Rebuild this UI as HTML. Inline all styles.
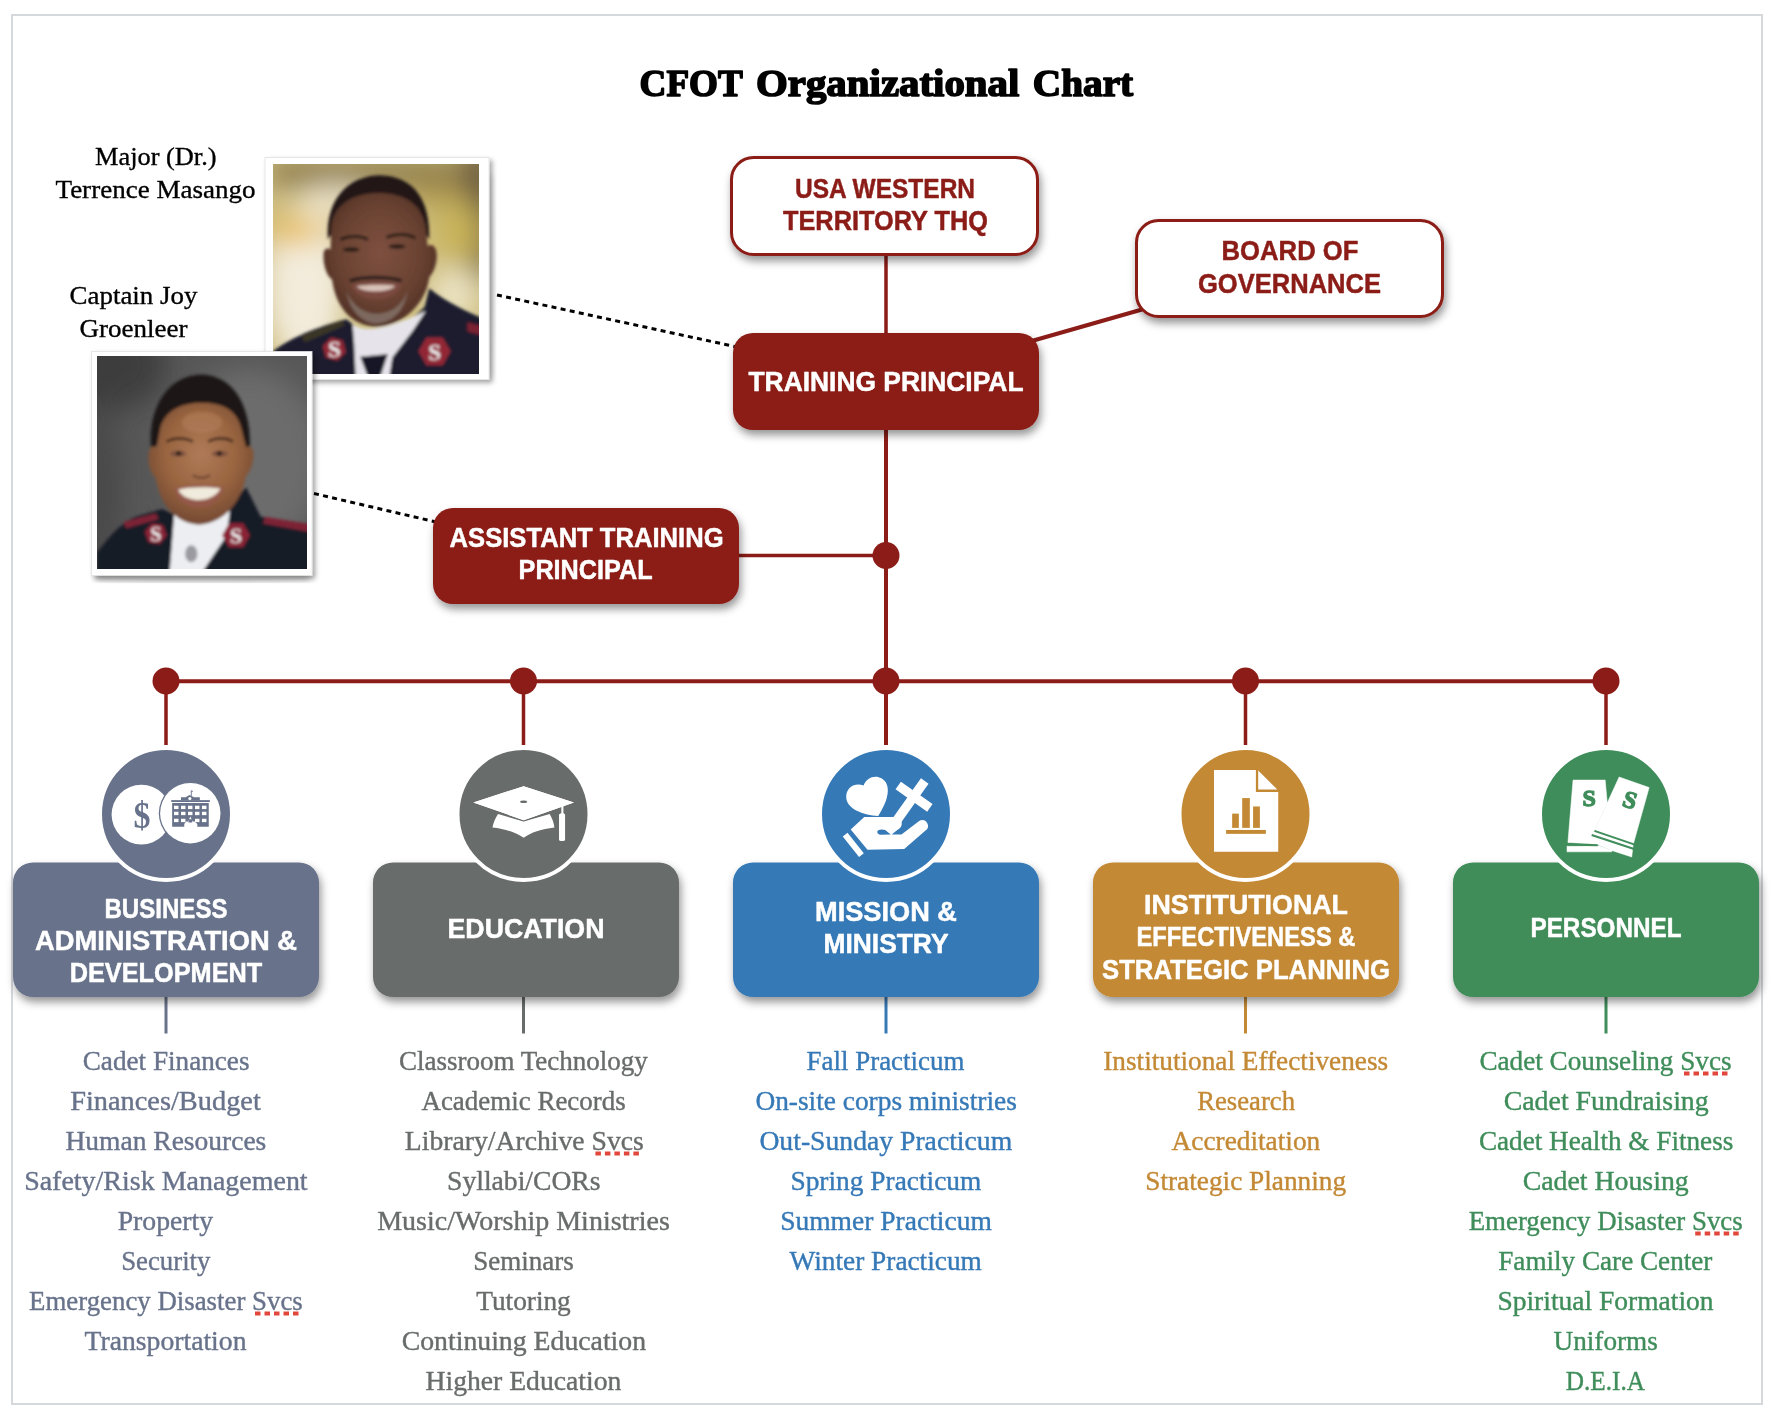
<!DOCTYPE html><html><head><meta charset="utf-8"><title>CFOT Organizational Chart</title>
<style>html,body{margin:0;padding:0;background:#fff;}body{width:1778px;height:1418px;overflow:hidden;position:relative;font-family:"Liberation Sans",sans-serif;}svg{position:absolute;left:0;top:0;display:block;will-change:transform;}</style></head><body>
<svg width="1778" height="1418" viewBox="0 0 1778 1418">
<defs>
<filter id="sh" x="-20%" y="-20%" width="140%" height="160%"><feDropShadow dx="2" dy="5" stdDeviation="4.5" flood-color="#000" flood-opacity="0.42"/></filter>
<filter id="shp" x="-10%" y="-10%" width="125%" height="125%"><feDropShadow dx="3" dy="3" stdDeviation="2.5" flood-color="#000" flood-opacity="0.35"/></filter>
<filter id="bgblur" x="-50%" y="-50%" width="200%" height="200%"><feGaussianBlur stdDeviation="90"/></filter>
<filter id="fblur" x="-10%" y="-10%" width="120%" height="120%"><feGaussianBlur stdDeviation="9"/></filter>
<filter id="blur6"><feGaussianBlur stdDeviation="6"/></filter>
<filter id="blur3"><feGaussianBlur stdDeviation="3"/></filter>
<filter id="blur1"><feGaussianBlur stdDeviation="1"/></filter>
<radialGradient id="wbg" cx="0.55" cy="0.55" r="0.75"><stop offset="0" stop-color="#7a7a7a"/><stop offset="0.6" stop-color="#5a5a5a"/><stop offset="1" stop-color="#2e2e2e"/></radialGradient>
<radialGradient id="mface" cx="0.5" cy="0.45" r="0.6"><stop offset="0" stop-color="#7e5040"/><stop offset="0.6" stop-color="#6a4232"/><stop offset="1" stop-color="#4a2c22"/></radialGradient>
<radialGradient id="wface" cx="0.5" cy="0.42" r="0.62"><stop offset="0" stop-color="#b07a58"/><stop offset="0.55" stop-color="#98643f"/><stop offset="1" stop-color="#6e4430"/></radialGradient>
<clipPath id="clipM"><rect x="273" y="164" width="206" height="210"/></clipPath>
<clipPath id="clipW"><rect x="97" y="356" width="210" height="213"/></clipPath>
</defs>
<rect x="12" y="15" width="1750" height="1389" fill="none" stroke="#d6d9dc" stroke-width="2"/>
<text x="691.2" y="96" font-family="'Liberation Serif', serif" font-size="38.5" font-weight="bold" fill="#000" text-anchor="middle" textLength="103.2" lengthAdjust="spacingAndGlyphs" stroke="#000" stroke-width="1.6" stroke-linejoin="round">CFOT</text>
<text x="887.7" y="96" font-family="'Liberation Serif', serif" font-size="38.5" font-weight="bold" fill="#000" text-anchor="middle" textLength="263.4" lengthAdjust="spacingAndGlyphs" stroke="#000" stroke-width="1.6" stroke-linejoin="round">Organizational</text>
<text x="1083.0" y="96" font-family="'Liberation Serif', serif" font-size="38.5" font-weight="bold" fill="#000" text-anchor="middle" textLength="100.3" lengthAdjust="spacingAndGlyphs" stroke="#000" stroke-width="1.6" stroke-linejoin="round">Chart</text>
<text x="155.75" y="165" font-family="'Liberation Serif', serif" font-size="26" font-weight="normal" fill="#000" text-anchor="middle" textLength="121.5" lengthAdjust="spacingAndGlyphs" stroke="#000" stroke-width="0.35" stroke-linejoin="round">Major (Dr.)</text>
<text x="155.5" y="197.8" font-family="'Liberation Serif', serif" font-size="26" font-weight="normal" fill="#000" text-anchor="middle" textLength="200" lengthAdjust="spacingAndGlyphs" stroke="#000" stroke-width="0.35" stroke-linejoin="round">Terrence Masango</text>
<text x="133.5" y="303.7" font-family="'Liberation Serif', serif" font-size="26" font-weight="normal" fill="#000" text-anchor="middle" textLength="128" lengthAdjust="spacingAndGlyphs" stroke="#000" stroke-width="0.35" stroke-linejoin="round">Captain Joy</text>
<text x="133.5" y="337" font-family="'Liberation Serif', serif" font-size="26" font-weight="normal" fill="#000" text-anchor="middle" textLength="108" lengthAdjust="spacingAndGlyphs" stroke="#000" stroke-width="0.35" stroke-linejoin="round">Groenleer</text>
<path d="M476,175 Q488,270 484,376 L492,378 Q496,270 492,175 Z" fill="#000" opacity="0.12" filter="url(#blur3)"/>
<rect x="265" y="157.5" width="224" height="222" fill="#fff" stroke="#e2e2e2" stroke-width="0.8" filter="url(#shp)"/>
<g clip-path="url(#clipM)"><g transform="translate(270,160) scale(0.15307)">
<rect x="0" y="0" width="1400" height="1420" fill="#cdbd80"/>
<g filter="url(#bgblur)">
<rect x="0" y="0" width="1400" height="170" fill="#8a7848"/>
<ellipse cx="1380" cy="300" rx="120" ry="500" fill="#6b5a3c"/>
<ellipse cx="230" cy="820" rx="260" ry="520" fill="#f3ecdc"/>
<ellipse cx="170" cy="460" rx="180" ry="90" fill="#e8bc48"/>
<ellipse cx="430" cy="260" rx="220" ry="90" fill="#efe6cc"/>
<ellipse cx="1230" cy="480" rx="150" ry="220" fill="#c9b45a"/>
<ellipse cx="1200" cy="880" rx="160" ry="180" fill="#ece4c4"/>
<ellipse cx="1080" cy="230" rx="160" ry="80" fill="#b09a50"/>
</g>
<g filter="url(#fblur)">
<path d="M20,1420 L20,1250 C120,1170 300,1090 500,1040 L620,1140 L700,1300 L860,1100 L1010,960 L1040,840 C1150,930 1300,1000 1400,1040 L1400,1420 Z" fill="#1b1e2e"/>
<path d="M200,1150 L470,1045 L490,1080 L230,1190 Z" fill="#3a3426"/>
<path d="M540,1075 C620,1130 760,1110 1020,985 L930,1120 L800,1290 L780,1420 L560,1420 L550,1200 Z" fill="#e6e4ea"/>
<polygon points="590,1285 770,1268 720,1420 640,1420" fill="#161926"/>
<path d="M1020,985 L1040,840 C1150,930 1300,1000 1400,1040 L1400,1420 L780,1420 L800,1290 L930,1120 Z" fill="#1b1e2e"/>
<path d="M378,520 C360,250 520,100 720,100 C930,105 1050,250 1040,520 L1005,470 C995,300 880,220 700,220 C520,225 415,300 410,470 Z" fill="#201814"/>
<path d="M400,430 C420,280 560,215 705,215 C870,215 990,280 1015,430 L1030,560 C1075,540 1100,590 1085,670 C1075,730 1045,760 1040,770 C1020,930 880,1080 700,1090 C520,1080 430,950 405,780 C370,760 345,680 350,610 C355,570 385,575 395,585 Z" fill="url(#mface)"/>
<path d="M500,860 C520,980 600,1065 700,1070 C810,1060 880,980 900,850 C880,920 820,1000 700,1005 C590,1000 530,930 500,860 Z" fill="#8a7a70" opacity="0.75"/>
<path d="M530,815 C620,790 770,790 860,810 C830,890 760,910 690,910 C620,910 560,880 530,815 Z" fill="#7a4a40"/>
<path d="M565,825 C640,812 750,812 820,822 C790,850 740,858 690,858 C640,858 590,850 565,825 Z" fill="#d8c2b8"/>
<ellipse cx="530" cy="585" rx="55" ry="15" fill="#2a1c16"/>
<ellipse cx="830" cy="565" rx="55" ry="15" fill="#2a1c16"/>
<path d="M460,520 C520,490 600,495 640,520" stroke="#2a1c16" stroke-width="20" fill="none"/>
<path d="M760,505 C820,480 900,480 950,510" stroke="#2a1c16" stroke-width="20" fill="none"/>
<path d="M520,790 C600,760 780,760 860,790" stroke="#2a1e1a" stroke-width="22" fill="none"/>
<polygon points="495.3,1255.2 440.2,1310.3 364.8,1290.2 344.7,1214.8 399.8,1159.7 475.2,1179.8" fill="#932536"/>
<polygon points="1180.0,1250.0 1127.5,1340.9 1022.5,1340.9 970.0,1250.0 1022.5,1159.1 1127.5,1159.1" fill="#932536"/>
<text x="420" y="1290" font-family="Liberation Serif" font-weight="bold" font-size="150" fill="#eee" text-anchor="middle">S</text>
<text x="1075" y="1305" font-family="Liberation Serif" font-weight="bold" font-size="150" fill="#eee" text-anchor="middle">S</text>
<polygon points="1290,1060 1400,1090 1400,1150 1290,1120" fill="#7a2030"/>
</g>
</g></g>
<path d="M96,572 Q200,577 309,572 L310,580 Q200,583 96,580 Z" fill="#000" opacity="0.25" filter="url(#blur3)"/>
<rect x="91.5" y="351.5" width="220.5" height="224" fill="#fff" stroke="#e2e2e2" stroke-width="0.8" filter="url(#shp)"/>
<g clip-path="url(#clipW)"><g transform="translate(94,353) scale(0.15439)">
<rect x="0" y="0" width="1420" height="1420" fill="#575757"/>
<g filter="url(#bgblur)">
<ellipse cx="1000" cy="700" rx="500" ry="600" fill="#6c6c6c"/>
<ellipse cx="60" cy="80" rx="400" ry="300" fill="#3c3c3c"/>
<ellipse cx="0" cy="900" rx="180" ry="600" fill="#484848"/>
</g>
<g filter="url(#fblur)">
<path d="M20,1420 L20,1290 C90,1200 170,1100 270,1060 L440,1010 L530,1050 L500,1420 Z" fill="#171a28"/>
<path d="M690,1420 L870,990 L985,870 L1080,1060 L1400,1110 L1400,1420 Z" fill="#171a28"/>
<path d="M520,1040 C600,1080 760,1080 880,1020 L860,1180 L700,1420 L490,1420 Z" fill="#eceef2"/>
<polygon points="190,1095 400,1040 420,1075 210,1135" fill="#7e2436"/>
<polygon points="1110,1060 1400,1110 1400,1160 1095,1105" fill="#7e2436"/>
<polygon points="470.9,1182.5 424.6,1237.7 353.7,1225.2 329.1,1157.5 375.4,1102.3 446.3,1114.8" fill="#8a2236"/>
<polygon points="1010.0,1180.0 965.0,1257.9 875.0,1257.9 830.0,1180.0 875.0,1102.1 965.0,1102.1" fill="#8a2236"/>
<text x="400" y="1220" font-family="Liberation Serif" font-weight="bold" font-size="130" fill="#eee" text-anchor="middle">S</text>
<text x="920" y="1230" font-family="Liberation Serif" font-weight="bold" font-size="140" fill="#eee" text-anchor="middle">S</text>
<ellipse cx="630" cy="1300" rx="40" ry="55" fill="#9a9aa0"/>
<path d="M520,950 L540,1060 C600,1110 760,1100 840,1040 L860,930 Z" fill="#7e5038"/>
<path d="M372,650 C340,380 460,150 690,140 C910,140 1030,360 1008,650 L955,560 C945,410 850,330 700,325 C540,330 445,410 430,560 Z" fill="#1a1512"/>
<path d="M430,480 C470,360 580,322 700,322 C820,322 920,360 952,480 L985,610 C1030,590 1045,640 1025,720 C1015,760 995,785 985,795 C960,960 840,1105 680,1112 C520,1105 420,960 400,810 C380,795 352,745 352,680 C352,610 380,590 405,615 Z" fill="url(#wface)"/>
<ellipse cx="700" cy="450" rx="130" ry="70" fill="#b88462" opacity="0.45"/>
<path d="M515,880 C600,845 760,845 845,870 C810,975 740,1000 680,1000 C610,1000 545,965 515,880 Z" fill="#94584a"/>
<path d="M545,885 C620,865 740,865 820,878 C790,935 720,952 680,952 C630,952 570,935 545,885 Z" fill="#f0ebdc"/>
<ellipse cx="545" cy="652" rx="52" ry="18" fill="#7a5040"/>
<ellipse cx="815" cy="652" rx="52" ry="18" fill="#7a5040"/>
<circle cx="548" cy="650" r="17" fill="#2a1a14"/>
<circle cx="812" cy="650" r="17" fill="#2a1a14"/>
<path d="M470,575 C520,545 600,550 640,575" stroke="#3a2418" stroke-width="16" fill="none"/>
<path d="M740,575 C780,550 860,545 900,575" stroke="#3a2418" stroke-width="16" fill="none"/>
<path d="M640,790 C670,815 720,815 750,790" stroke="#6a4030" stroke-width="14" fill="none"/>
</g>
</g></g>
<line x1="497" y1="295" x2="737" y2="347" stroke="#000" stroke-width="3" stroke-dasharray="5 4.3"/>
<line x1="314" y1="493.5" x2="436" y2="522" stroke="#000" stroke-width="3" stroke-dasharray="5 4.3"/>
<line x1="886" y1="250" x2="886" y2="340" stroke="#8b1c17" stroke-width="3.5"/>
<line x1="1030" y1="341.5" x2="1142" y2="309.5" stroke="#8b1c17" stroke-width="4"/>
<line x1="886" y1="425" x2="886" y2="745" stroke="#8b1c17" stroke-width="4"/>
<line x1="735" y1="555.5" x2="885" y2="555.5" stroke="#8b1c17" stroke-width="3.5"/>
<circle cx="886" cy="555.5" r="13.5" fill="#8b1c17"/>
<line x1="166" y1="681.2" x2="1606" y2="681.2" stroke="#8b1c17" stroke-width="4"/>
<circle cx="166" cy="681" r="13.5" fill="#8b1c17"/>
<line x1="166" y1="681" x2="166" y2="745" stroke="#8b1c17" stroke-width="3.5"/>
<circle cx="523.5" cy="681" r="13.5" fill="#8b1c17"/>
<line x1="523.5" y1="681" x2="523.5" y2="745" stroke="#8b1c17" stroke-width="3.5"/>
<circle cx="886" cy="681" r="13.5" fill="#8b1c17"/>
<line x1="886" y1="681" x2="886" y2="745" stroke="#8b1c17" stroke-width="3.5"/>
<circle cx="1245.5" cy="681" r="13.5" fill="#8b1c17"/>
<line x1="1245.5" y1="681" x2="1245.5" y2="745" stroke="#8b1c17" stroke-width="3.5"/>
<circle cx="1606" cy="681" r="13.5" fill="#8b1c17"/>
<line x1="1606" y1="681" x2="1606" y2="745" stroke="#8b1c17" stroke-width="3.5"/>
<rect x="731.5" y="157.5" width="306" height="97" rx="22" fill="#fff" stroke="#8b1c17" stroke-width="3" filter="url(#sh)"/>
<text x="885" y="198" font-family="'Liberation Sans', sans-serif" font-size="27.5" font-weight="bold" fill="#8b1c17" text-anchor="middle" textLength="180" lengthAdjust="spacingAndGlyphs" stroke="#8b1c17" stroke-width="0.5" stroke-linejoin="round">USA WESTERN</text>
<text x="885.5" y="230" font-family="'Liberation Sans', sans-serif" font-size="27.5" font-weight="bold" fill="#8b1c17" text-anchor="middle" textLength="205" lengthAdjust="spacingAndGlyphs" stroke="#8b1c17" stroke-width="0.5" stroke-linejoin="round">TERRITORY THQ</text>
<rect x="1136.5" y="220.5" width="306" height="96" rx="22" fill="#fff" stroke="#8b1c17" stroke-width="3" filter="url(#sh)"/>
<text x="1290" y="260" font-family="'Liberation Sans', sans-serif" font-size="27.5" font-weight="bold" fill="#8b1c17" text-anchor="middle" textLength="137" lengthAdjust="spacingAndGlyphs" stroke="#8b1c17" stroke-width="0.5" stroke-linejoin="round">BOARD OF</text>
<text x="1289.5" y="293" font-family="'Liberation Sans', sans-serif" font-size="27.5" font-weight="bold" fill="#8b1c17" text-anchor="middle" textLength="183" lengthAdjust="spacingAndGlyphs" stroke="#8b1c17" stroke-width="0.5" stroke-linejoin="round">GOVERNANCE</text>
<rect x="733" y="333" width="306" height="97" rx="20" fill="#8b1c17" filter="url(#sh)"/>
<text x="886" y="391" font-family="'Liberation Sans', sans-serif" font-size="27.5" font-weight="bold" fill="#fff" text-anchor="middle" textLength="275" lengthAdjust="spacingAndGlyphs" stroke="#fff" stroke-width="0.5" stroke-linejoin="round">TRAINING PRINCIPAL</text>
<rect x="433" y="508" width="306" height="96" rx="20" fill="#8b1c17" filter="url(#sh)"/>
<text x="586.6" y="546.5" font-family="'Liberation Sans', sans-serif" font-size="27.5" font-weight="bold" fill="#fff" text-anchor="middle" textLength="274" lengthAdjust="spacingAndGlyphs" stroke="#fff" stroke-width="0.5" stroke-linejoin="round">ASSISTANT TRAINING</text>
<text x="585.6" y="579" font-family="'Liberation Sans', sans-serif" font-size="27.5" font-weight="bold" fill="#fff" text-anchor="middle" textLength="134" lengthAdjust="spacingAndGlyphs" stroke="#fff" stroke-width="0.5" stroke-linejoin="round">PRINCIPAL</text>
<line x1="166" y1="990" x2="166" y2="1033.5" stroke="#68738b" stroke-width="3"/>
<rect x="13" y="862.5" width="306" height="134.5" rx="20" fill="#68738b" filter="url(#sh)"/>
<circle cx="166" cy="814" r="66" fill="#68738b" stroke="#fff" stroke-width="4"/>
<text x="166" y="917.6" font-family="'Liberation Sans', sans-serif" font-size="27.5" font-weight="bold" fill="#fff" text-anchor="middle" textLength="123" lengthAdjust="spacingAndGlyphs" stroke="#fff" stroke-width="0.5" stroke-linejoin="round">BUSINESS</text>
<text x="166" y="950" font-family="'Liberation Sans', sans-serif" font-size="27.5" font-weight="bold" fill="#fff" text-anchor="middle" textLength="262" lengthAdjust="spacingAndGlyphs" stroke="#fff" stroke-width="0.5" stroke-linejoin="round">ADMINISTRATION &amp;</text>
<text x="166" y="981.7" font-family="'Liberation Sans', sans-serif" font-size="27.5" font-weight="bold" fill="#fff" text-anchor="middle" textLength="192.6" lengthAdjust="spacingAndGlyphs" stroke="#fff" stroke-width="0.5" stroke-linejoin="round">DEVELOPMENT</text>
<line x1="523.5" y1="990" x2="523.5" y2="1033.5" stroke="#686c6a" stroke-width="3"/>
<rect x="373" y="862.5" width="306" height="134.5" rx="20" fill="#686c6a" filter="url(#sh)"/>
<circle cx="523.5" cy="814" r="66" fill="#686c6a" stroke="#fff" stroke-width="4"/>
<text x="526" y="938" font-family="'Liberation Sans', sans-serif" font-size="27.5" font-weight="bold" fill="#fff" text-anchor="middle" textLength="157" lengthAdjust="spacingAndGlyphs" stroke="#fff" stroke-width="0.5" stroke-linejoin="round">EDUCATION</text>
<line x1="886" y1="990" x2="886" y2="1033.5" stroke="#3679b7" stroke-width="3"/>
<rect x="733" y="862.5" width="306" height="134.5" rx="20" fill="#3679b7" filter="url(#sh)"/>
<circle cx="886" cy="814" r="66" fill="#3679b7" stroke="#fff" stroke-width="4"/>
<text x="886" y="920.7" font-family="'Liberation Sans', sans-serif" font-size="27.5" font-weight="bold" fill="#fff" text-anchor="middle" textLength="142" lengthAdjust="spacingAndGlyphs" stroke="#fff" stroke-width="0.5" stroke-linejoin="round">MISSION &amp;</text>
<text x="886" y="953" font-family="'Liberation Sans', sans-serif" font-size="27.5" font-weight="bold" fill="#fff" text-anchor="middle" textLength="125" lengthAdjust="spacingAndGlyphs" stroke="#fff" stroke-width="0.5" stroke-linejoin="round">MINISTRY</text>
<line x1="1245.5" y1="990" x2="1245.5" y2="1033.5" stroke="#c38935" stroke-width="3"/>
<rect x="1093" y="862.5" width="306" height="134.5" rx="20" fill="#c38935" filter="url(#sh)"/>
<circle cx="1245.5" cy="814" r="66" fill="#c38935" stroke="#fff" stroke-width="4"/>
<text x="1246" y="913.6" font-family="'Liberation Sans', sans-serif" font-size="27.5" font-weight="bold" fill="#fff" text-anchor="middle" textLength="204" lengthAdjust="spacingAndGlyphs" stroke="#fff" stroke-width="0.5" stroke-linejoin="round">INSTITUTIONAL</text>
<text x="1246" y="946" font-family="'Liberation Sans', sans-serif" font-size="27.5" font-weight="bold" fill="#fff" text-anchor="middle" textLength="219" lengthAdjust="spacingAndGlyphs" stroke="#fff" stroke-width="0.5" stroke-linejoin="round">EFFECTIVENESS &amp;</text>
<text x="1246" y="978.6" font-family="'Liberation Sans', sans-serif" font-size="27.5" font-weight="bold" fill="#fff" text-anchor="middle" textLength="288" lengthAdjust="spacingAndGlyphs" stroke="#fff" stroke-width="0.5" stroke-linejoin="round">STRATEGIC PLANNING</text>
<line x1="1606" y1="990" x2="1606" y2="1033.5" stroke="#3f8d5a" stroke-width="3"/>
<rect x="1453" y="862.5" width="306" height="134.5" rx="20" fill="#3f8d5a" filter="url(#sh)"/>
<circle cx="1606" cy="814" r="66" fill="#3f8d5a" stroke="#fff" stroke-width="4"/>
<text x="1606" y="937.4" font-family="'Liberation Sans', sans-serif" font-size="27.5" font-weight="bold" fill="#fff" text-anchor="middle" textLength="151" lengthAdjust="spacingAndGlyphs" stroke="#fff" stroke-width="0.5" stroke-linejoin="round">PERSONNEL</text>
<circle cx="141.4" cy="814.6" r="29.8" fill="#fff"/>
<circle cx="190.3" cy="813.2" r="31.5" fill="#68738b"/>
<circle cx="190.3" cy="813.2" r="30.2" fill="#fff"/>
<text x="142" y="827.5" font-family="'Liberation Serif', serif" font-size="38" font-weight="bold" fill="#68738b" text-anchor="middle" textLength="17" lengthAdjust="spacingAndGlyphs">$</text>
<g transform="translate(100,748) scale(0.09311)"><g fill="#68738b"><rect x="765" y="560" width="415" height="20"/><polygon points="870,560 870,528 920,528 960,505 1010,528 1072,528 1072,560"/><rect x="975" y="455" width="10" height="60"/><polygon points="985,455 1000,465 985,475"/><path d="M775,590 H1168 V845 H1045 V815 L1015,790 H995 L970,735 L945,790 H925 L905,815 V845 H775 Z"/></g><g fill="#fff"><circle cx="965" cy="543" r="17"/><rect x="795" y="620" width="48" height="36"/><rect x="870" y="620" width="48" height="36"/><rect x="945" y="620" width="48" height="36"/><rect x="1020" y="620" width="48" height="36"/><rect x="1095" y="620" width="48" height="36"/><rect x="795" y="685" width="48" height="36"/><rect x="870" y="685" width="48" height="36"/><rect x="945" y="685" width="48" height="36"/><rect x="1020" y="685" width="48" height="36"/><rect x="1095" y="685" width="48" height="36"/><rect x="795" y="760" width="48" height="36"/><rect x="870" y="760" width="48" height="36"/><rect x="1020" y="760" width="48" height="36"/><rect x="1095" y="760" width="48" height="36"/></g><rect x="950" y="765" width="40" height="35" fill="#68738b"/></g>
<g transform="translate(458,748) scale(0.09311)"><g fill="#fff"><path d="M430,708 L705,790 L985,708 C1010,755 1030,800 1035,855 C900,870 780,910 705,965 C630,910 510,870 370,855 C380,800 400,755 430,708 Z"/><polygon points="165,585 705,410 1245,585 705,775" stroke="#686c6a" stroke-width="22" paint-order="stroke"/><polygon points="165,585 705,410 1245,585 705,775"/><rect x="1110" y="620" width="22" height="100"/><path d="M1085,715 L1105,700 H1135 L1150,715 V990 Q1118,1010 1085,990 Z"/></g><ellipse cx="705" cy="577" rx="38" ry="14" fill="#686c6a"/></g>
<g transform="translate(820,748) scale(0.09311)"><g fill="#fff"><path d="M625,730 C470,722 300,660 283,545 C268,440 360,365 468,402 C500,318 590,285 660,325 C745,375 740,480 705,575 C680,640 650,690 625,730 Z"/><line x1="1125" y1="355" x2="830" y2="770" stroke="#fff" stroke-width="100"/><line x1="840" y1="403" x2="1180" y2="643" stroke="#fff" stroke-width="100"/><path d="M330,875 L475,742 L800,742 L875,790 C885,830 870,860 830,880 L770,930 L875,930 L1065,785 C1100,760 1150,780 1160,830 C1165,855 1150,875 1130,890 L905,1085 L510,1092 Z"/><line x1="270" y1="930" x2="445" y2="1150" stroke="#fff" stroke-width="65"/></g><path d="M615,900 C620,870 670,870 700,880 L760,930 L650,932 C630,930 615,920 615,900 Z" fill="#3679b7"/></g>
<g transform="translate(1180,748) scale(0.09311)"><g fill="#fff"><polygon points="365,235 815,235 815,472 1055,472 1055,1115 365,1115"/><polygon points="840,242 1045,447 840,447"/></g><g fill="#c38935"><rect x="560" y="705" width="72" height="153"/><rect x="668" y="538" width="82" height="320"/><rect x="785" y="628" width="73" height="230"/><rect x="495" y="880" width="427" height="42"/></g></g>
<g transform="translate(1540,748) scale(0.09311)"><g fill="#fff" stroke="#fff" stroke-width="6" stroke-linejoin="miter"><polygon points="355,345 700,345 722,590 560,935 610,1035 300,1015"/><polygon points="850,312 1172,425 1000,1040 985,1170 770,1100 560,935 722,590"/><polygon points="290,1055 640,1052 770,1098 770,1115 290,1115"/><polygon points="555,930 775,1100 645,1050 600,1030"/></g><g stroke="#3f8d5a" stroke-width="22" fill="none"><line x1="585" y1="890" x2="1010" y2="1035"/><line x1="555" y1="935" x2="1010" y2="1085"/><line x1="300" y1="1035" x2="620" y2="1045"/></g></g>
<text x="1589.3" y="806" font-family="'Liberation Serif', serif" font-size="24" font-weight="bold" fill="#3f8d5a" stroke="#3f8d5a" stroke-width="1.3" text-anchor="middle">S</text>
<text x="0" y="0" transform="translate(1627.5,807.5) rotate(18)" font-family="'Liberation Serif', serif" font-size="24" font-weight="bold" fill="#3f8d5a" stroke="#3f8d5a" stroke-width="1.3" text-anchor="middle">S</text>
<text x="166.1" y="1069.6" font-family="'Liberation Serif', serif" font-size="28" font-weight="normal" fill="#68738b" text-anchor="middle" textLength="166.8" lengthAdjust="spacingAndGlyphs" stroke="#68738b" stroke-width="0.4" stroke-linejoin="round">Cadet Finances</text>
<text x="165.5" y="1109.6" font-family="'Liberation Serif', serif" font-size="28" font-weight="normal" fill="#68738b" text-anchor="middle" textLength="190.6" lengthAdjust="spacingAndGlyphs" stroke="#68738b" stroke-width="0.4" stroke-linejoin="round">Finances/Budget</text>
<text x="165.9" y="1149.6" font-family="'Liberation Serif', serif" font-size="28" font-weight="normal" fill="#68738b" text-anchor="middle" textLength="200.8" lengthAdjust="spacingAndGlyphs" stroke="#68738b" stroke-width="0.4" stroke-linejoin="round">Human Resources</text>
<text x="165.9" y="1189.6" font-family="'Liberation Serif', serif" font-size="28" font-weight="normal" fill="#68738b" text-anchor="middle" textLength="283.5" lengthAdjust="spacingAndGlyphs" stroke="#68738b" stroke-width="0.4" stroke-linejoin="round">Safety/Risk Management</text>
<text x="165.4" y="1229.6" font-family="'Liberation Serif', serif" font-size="28" font-weight="normal" fill="#68738b" text-anchor="middle" textLength="95.5" lengthAdjust="spacingAndGlyphs" stroke="#68738b" stroke-width="0.4" stroke-linejoin="round">Property</text>
<text x="165.8" y="1269.6" font-family="'Liberation Serif', serif" font-size="28" font-weight="normal" fill="#68738b" text-anchor="middle" textLength="89.3" lengthAdjust="spacingAndGlyphs" stroke="#68738b" stroke-width="0.4" stroke-linejoin="round">Security</text>
<text x="165.9" y="1309.6" font-family="'Liberation Serif', serif" font-size="28" font-weight="normal" fill="#68738b" text-anchor="middle" textLength="273.7" lengthAdjust="spacingAndGlyphs" stroke="#68738b" stroke-width="0.4" stroke-linejoin="round">Emergency Disaster Svcs</text>
<text x="165.5" y="1349.6" font-family="'Liberation Serif', serif" font-size="28" font-weight="normal" fill="#68738b" text-anchor="middle" textLength="162.0" lengthAdjust="spacingAndGlyphs" stroke="#68738b" stroke-width="0.4" stroke-linejoin="round">Transportation</text>
<text x="523.4" y="1069.6" font-family="'Liberation Serif', serif" font-size="28" font-weight="normal" fill="#686c6a" text-anchor="middle" textLength="248.9" lengthAdjust="spacingAndGlyphs" stroke="#686c6a" stroke-width="0.4" stroke-linejoin="round">Classroom Technology</text>
<text x="523.6" y="1109.6" font-family="'Liberation Serif', serif" font-size="28" font-weight="normal" fill="#686c6a" text-anchor="middle" textLength="204.3" lengthAdjust="spacingAndGlyphs" stroke="#686c6a" stroke-width="0.4" stroke-linejoin="round">Academic Records</text>
<text x="524.3" y="1149.6" font-family="'Liberation Serif', serif" font-size="28" font-weight="normal" fill="#686c6a" text-anchor="middle" textLength="239.0" lengthAdjust="spacingAndGlyphs" stroke="#686c6a" stroke-width="0.4" stroke-linejoin="round">Library/Archive Svcs</text>
<text x="523.8" y="1189.6" font-family="'Liberation Serif', serif" font-size="28" font-weight="normal" fill="#686c6a" text-anchor="middle" textLength="153.5" lengthAdjust="spacingAndGlyphs" stroke="#686c6a" stroke-width="0.4" stroke-linejoin="round">Syllabi/CORs</text>
<text x="523.5" y="1229.6" font-family="'Liberation Serif', serif" font-size="28" font-weight="normal" fill="#686c6a" text-anchor="middle" textLength="292.6" lengthAdjust="spacingAndGlyphs" stroke="#686c6a" stroke-width="0.4" stroke-linejoin="round">Music/Worship Ministries</text>
<text x="523.5" y="1269.6" font-family="'Liberation Serif', serif" font-size="28" font-weight="normal" fill="#686c6a" text-anchor="middle" textLength="100.6" lengthAdjust="spacingAndGlyphs" stroke="#686c6a" stroke-width="0.4" stroke-linejoin="round">Seminars</text>
<text x="523.5" y="1309.6" font-family="'Liberation Serif', serif" font-size="28" font-weight="normal" fill="#686c6a" text-anchor="middle" textLength="94.6" lengthAdjust="spacingAndGlyphs" stroke="#686c6a" stroke-width="0.4" stroke-linejoin="round">Tutoring</text>
<text x="523.9" y="1349.6" font-family="'Liberation Serif', serif" font-size="28" font-weight="normal" fill="#686c6a" text-anchor="middle" textLength="244.4" lengthAdjust="spacingAndGlyphs" stroke="#686c6a" stroke-width="0.4" stroke-linejoin="round">Continuing Education</text>
<text x="523.4" y="1389.6" font-family="'Liberation Serif', serif" font-size="28" font-weight="normal" fill="#686c6a" text-anchor="middle" textLength="195.8" lengthAdjust="spacingAndGlyphs" stroke="#686c6a" stroke-width="0.4" stroke-linejoin="round">Higher Education</text>
<text x="885.5" y="1069.6" font-family="'Liberation Serif', serif" font-size="28" font-weight="normal" fill="#3679b7" text-anchor="middle" textLength="157.9" lengthAdjust="spacingAndGlyphs" stroke="#3679b7" stroke-width="0.4" stroke-linejoin="round">Fall Practicum</text>
<text x="886.1" y="1109.6" font-family="'Liberation Serif', serif" font-size="28" font-weight="normal" fill="#3679b7" text-anchor="middle" textLength="261.4" lengthAdjust="spacingAndGlyphs" stroke="#3679b7" stroke-width="0.4" stroke-linejoin="round">On-site corps ministries</text>
<text x="885.8" y="1149.6" font-family="'Liberation Serif', serif" font-size="28" font-weight="normal" fill="#3679b7" text-anchor="middle" textLength="252.8" lengthAdjust="spacingAndGlyphs" stroke="#3679b7" stroke-width="0.4" stroke-linejoin="round">Out-Sunday Practicum</text>
<text x="885.9" y="1189.6" font-family="'Liberation Serif', serif" font-size="28" font-weight="normal" fill="#3679b7" text-anchor="middle" textLength="190.9" lengthAdjust="spacingAndGlyphs" stroke="#3679b7" stroke-width="0.4" stroke-linejoin="round">Spring Practicum</text>
<text x="886.0" y="1229.6" font-family="'Liberation Serif', serif" font-size="28" font-weight="normal" fill="#3679b7" text-anchor="middle" textLength="211.7" lengthAdjust="spacingAndGlyphs" stroke="#3679b7" stroke-width="0.4" stroke-linejoin="round">Summer Practicum</text>
<text x="885.7" y="1269.6" font-family="'Liberation Serif', serif" font-size="28" font-weight="normal" fill="#3679b7" text-anchor="middle" textLength="192.2" lengthAdjust="spacingAndGlyphs" stroke="#3679b7" stroke-width="0.4" stroke-linejoin="round">Winter Practicum</text>
<text x="1245.7" y="1069.6" font-family="'Liberation Serif', serif" font-size="28" font-weight="normal" fill="#c38935" text-anchor="middle" textLength="284.9" lengthAdjust="spacingAndGlyphs" stroke="#c38935" stroke-width="0.4" stroke-linejoin="round">Institutional Effectiveness</text>
<text x="1246.1" y="1109.6" font-family="'Liberation Serif', serif" font-size="28" font-weight="normal" fill="#c38935" text-anchor="middle" textLength="97.8" lengthAdjust="spacingAndGlyphs" stroke="#c38935" stroke-width="0.4" stroke-linejoin="round">Research</text>
<text x="1245.9" y="1149.6" font-family="'Liberation Serif', serif" font-size="28" font-weight="normal" fill="#c38935" text-anchor="middle" textLength="148.6" lengthAdjust="spacingAndGlyphs" stroke="#c38935" stroke-width="0.4" stroke-linejoin="round">Accreditation</text>
<text x="1245.7" y="1189.6" font-family="'Liberation Serif', serif" font-size="28" font-weight="normal" fill="#c38935" text-anchor="middle" textLength="200.9" lengthAdjust="spacingAndGlyphs" stroke="#c38935" stroke-width="0.4" stroke-linejoin="round">Strategic Planning</text>
<text x="1605.5" y="1069.6" font-family="'Liberation Serif', serif" font-size="28" font-weight="normal" fill="#3f8d5a" text-anchor="middle" textLength="252.1" lengthAdjust="spacingAndGlyphs" stroke="#3f8d5a" stroke-width="0.4" stroke-linejoin="round">Cadet Counseling Svcs</text>
<text x="1606.2" y="1109.6" font-family="'Liberation Serif', serif" font-size="28" font-weight="normal" fill="#3f8d5a" text-anchor="middle" textLength="205.1" lengthAdjust="spacingAndGlyphs" stroke="#3f8d5a" stroke-width="0.4" stroke-linejoin="round">Cadet Fundraising</text>
<text x="1606.1" y="1149.6" font-family="'Liberation Serif', serif" font-size="28" font-weight="normal" fill="#3f8d5a" text-anchor="middle" textLength="254.4" lengthAdjust="spacingAndGlyphs" stroke="#3f8d5a" stroke-width="0.4" stroke-linejoin="round">Cadet Health &amp; Fitness</text>
<text x="1605.7" y="1189.6" font-family="'Liberation Serif', serif" font-size="28" font-weight="normal" fill="#3f8d5a" text-anchor="middle" textLength="166.1" lengthAdjust="spacingAndGlyphs" stroke="#3f8d5a" stroke-width="0.4" stroke-linejoin="round">Cadet Housing</text>
<text x="1605.7" y="1229.6" font-family="'Liberation Serif', serif" font-size="28" font-weight="normal" fill="#3f8d5a" text-anchor="middle" textLength="274.1" lengthAdjust="spacingAndGlyphs" stroke="#3f8d5a" stroke-width="0.4" stroke-linejoin="round">Emergency Disaster Svcs</text>
<text x="1605.3" y="1269.6" font-family="'Liberation Serif', serif" font-size="28" font-weight="normal" fill="#3f8d5a" text-anchor="middle" textLength="214.1" lengthAdjust="spacingAndGlyphs" stroke="#3f8d5a" stroke-width="0.4" stroke-linejoin="round">Family Care Center</text>
<text x="1605.5" y="1309.6" font-family="'Liberation Serif', serif" font-size="28" font-weight="normal" fill="#3f8d5a" text-anchor="middle" textLength="216.1" lengthAdjust="spacingAndGlyphs" stroke="#3f8d5a" stroke-width="0.4" stroke-linejoin="round">Spiritual Formation</text>
<text x="1605.7" y="1349.6" font-family="'Liberation Serif', serif" font-size="28" font-weight="normal" fill="#3f8d5a" text-anchor="middle" textLength="104.2" lengthAdjust="spacingAndGlyphs" stroke="#3f8d5a" stroke-width="0.4" stroke-linejoin="round">Uniforms</text>
<text x="1605.4" y="1389.6" font-family="'Liberation Serif', serif" font-size="28" font-weight="normal" fill="#3f8d5a" text-anchor="middle" textLength="79.3" lengthAdjust="spacingAndGlyphs" stroke="#3f8d5a" stroke-width="0.4" stroke-linejoin="round">D.E.I.A</text>
<line x1="255" y1="1313.5" x2="301" y2="1313.5" stroke="#e2473b" stroke-width="4" stroke-dasharray="5.5 4"/>
<line x1="595.4" y1="1153.5" x2="641.8" y2="1153.5" stroke="#e2473b" stroke-width="4" stroke-dasharray="5.5 4"/>
<line x1="1684" y1="1073.5" x2="1730.3" y2="1073.5" stroke="#e2473b" stroke-width="4" stroke-dasharray="5.5 4"/>
<line x1="1695.2" y1="1233.5" x2="1741" y2="1233.5" stroke="#e2473b" stroke-width="4" stroke-dasharray="5.5 4"/>
</svg></body></html>
